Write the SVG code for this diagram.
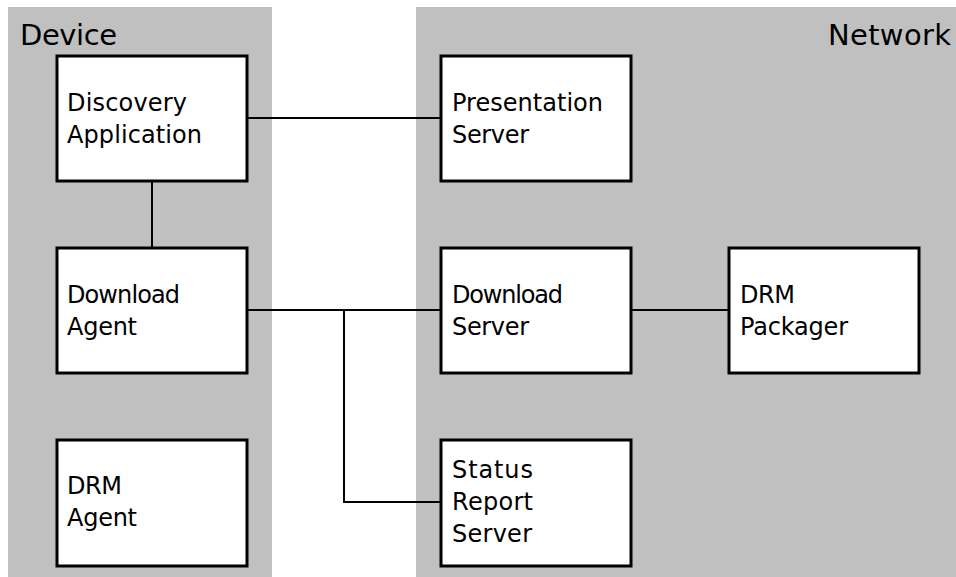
<svg xmlns="http://www.w3.org/2000/svg" width="956" height="577" viewBox="0 0 956 577">
<style>
.panel{fill:#c0c0c0}
.box{fill:#ffffff;stroke:#000000;stroke-width:3}
.lbl{font-family:"DejaVu Sans",sans-serif;font-size:24px;fill:#000000}
.title{font-family:"DejaVu Sans",sans-serif;font-size:29px;fill:#000000}
.conn{fill:none;stroke:#000000;stroke-width:2}
</style>
<rect width="956" height="577" fill="#ffffff"/>
<g id="device-panel">
<rect class="panel" x="8" y="7" width="264" height="570"/>
<text class="title" x="20" y="45" textLength="97">Device</text>
</g>
<g id="network-panel">
<rect class="panel" x="416" y="7" width="540" height="570"/>
<text class="title" x="828" y="45" textLength="123">Network</text>
</g>
<g id="connectors">
<path class="conn" d="M248 118 H440"/>
<path class="conn" d="M152 182 V247"/>
<path class="conn" d="M248 310 H440"/>
<path class="conn" d="M632 310 H728"/>
<path class="conn" d="M344 310 V502 H440"/>
</g>
<g id="discovery-application">
<rect class="box" x="57" y="56" width="190" height="125"/>
<text class="lbl" x="67" y="111" textLength="120">Discovery</text>
<text class="lbl" x="67" y="143" textLength="135">Application</text>
</g>
<g id="presentation-server">
<rect class="box" x="441" y="56" width="190" height="125"/>
<text class="lbl" x="452" y="111" textLength="151">Presentation</text>
<text class="lbl" x="452" y="143" textLength="77">Server</text>
</g>
<g id="download-agent">
<rect class="box" x="57" y="248" width="190" height="125"/>
<text class="lbl" x="67" y="303" textLength="113">Download</text>
<text class="lbl" x="67" y="335" textLength="70">Agent</text>
</g>
<g id="download-server">
<rect class="box" x="441" y="248" width="190" height="125"/>
<text class="lbl" x="452" y="303" textLength="111">Download</text>
<text class="lbl" x="452" y="335" textLength="77">Server</text>
</g>
<g id="drm-packager">
<rect class="box" x="729" y="248" width="190" height="125"/>
<text class="lbl" x="740" y="303" textLength="55">DRM</text>
<text class="lbl" x="740" y="335" textLength="108">Packager</text>
</g>
<g id="drm-agent">
<rect class="box" x="57" y="440" width="190" height="126"/>
<text class="lbl" x="67" y="494" textLength="55">DRM</text>
<text class="lbl" x="67" y="526" textLength="70">Agent</text>
</g>
<g id="status-report-server">
<rect class="box" x="441" y="440" width="190" height="126"/>
<text class="lbl" x="452" y="478" textLength="81">Status</text>
<text class="lbl" x="452" y="510" textLength="81">Report</text>
<text class="lbl" x="452" y="542" textLength="80">Server</text>
</g>
</svg>
